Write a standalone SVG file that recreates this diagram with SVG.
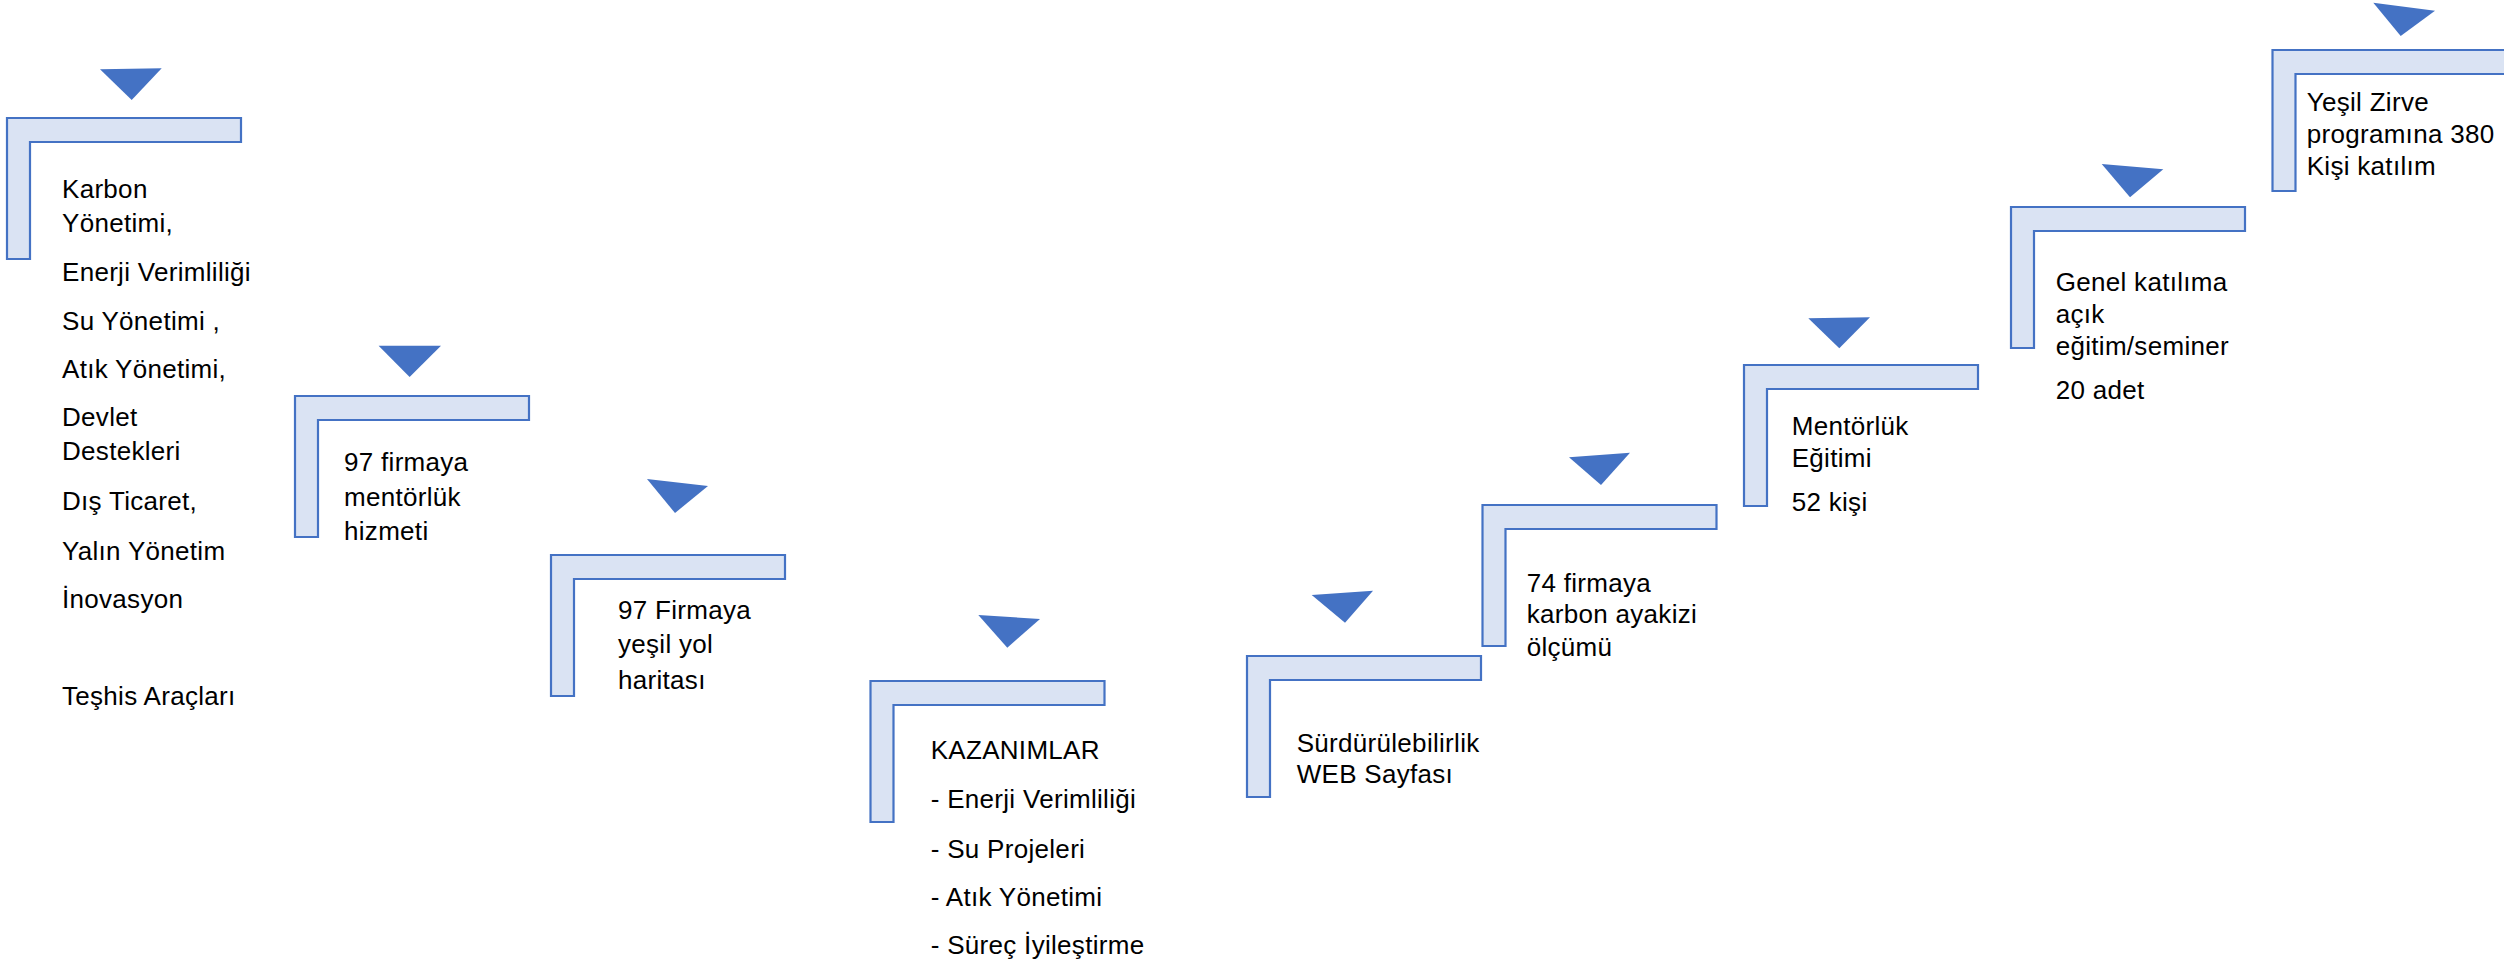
<svg xmlns="http://www.w3.org/2000/svg" width="2504" height="965" viewBox="0 0 2504 965">
<defs>
<style>
.br{fill:#DAE3F3;stroke:#4472C4;stroke-width:2.2}
.tri{fill:#4472C4;stroke:none}
.t{font-family:"Liberation Sans","Noto Sans",Arial,sans-serif;font-size:26px;letter-spacing:0.3px;fill:#000}
</style>
<path id="bracket" d="M0,0 H234 V24 H23 V141 H0 Z"/>
</defs>
<rect width="2504" height="965" fill="#fff"/>
<g id="connectors">
<polygon class="tri" points="100,69.3 161.7,68.3 131.7,100"/>
<polygon class="tri" points="378.6,345.7 441,345.7 409.6,377"/>
<polygon class="tri" points="647,479 708,486 675,513"/>
<polygon class="tri" points="978.3,615 1040,619 1007.3,647.7"/>
<polygon class="tri" points="1311.7,595 1373,590.7 1345,622.7"/>
<polygon class="tri" points="1569,457.3 1630,452.7 1601,485"/>
<polygon class="tri" points="1808.3,318.3 1870,317.3 1839.3,348.3"/>
<polygon class="tri" points="2101.7,164 2163.3,169.3 2130,197.3"/>
<polygon class="tri" points="2373.3,2.7 2435,10.7 2400.7,36"/>
</g>
<g id="node1">
<use href="#bracket" class="br" x="7" y="118"/>
<text class="t" x="62" y="197.5">Karbon</text>
<text class="t" x="62" y="231.5">Yönetimi,</text>
<text class="t" x="62" y="281">Enerji Verimliliği</text>
<text class="t" x="62" y="330">Su Yönetimi ,</text>
<text class="t" x="62" y="378">Atık Yönetimi,</text>
<text class="t" x="62" y="426">Devlet</text>
<text class="t" x="62" y="460">Destekleri</text>
<text class="t" x="62" y="510">Dış Ticaret,</text>
<text class="t" x="62" y="560">Yalın Yönetim</text>
<text class="t" x="62" y="608">İnovasyon</text>
<text class="t" x="62" y="705">Teşhis Araçları</text>
</g>
<g id="node2">
<use href="#bracket" class="br" x="295" y="396"/>
<text class="t" x="344" y="470.7">97 firmaya</text>
<text class="t" x="344" y="505.7">mentörlük</text>
<text class="t" x="344" y="540">hizmeti</text>
</g>
<g id="node3">
<use href="#bracket" class="br" x="551" y="555"/>
<text class="t" x="618" y="619">97 Firmaya</text>
<text class="t" x="618" y="653">yeşil yol</text>
<text class="t" x="618" y="689">haritası</text>
</g>
<g id="node4">
<use href="#bracket" class="br" x="870.5" y="681"/>
<text class="t" x="930.7" y="759">KAZANIMLAR</text>
<text class="t" x="930.7" y="808">- Enerji Verimliliği</text>
<text class="t" x="930.7" y="857.5">- Su Projeleri</text>
<text class="t" x="930.7" y="906">- Atık Yönetimi</text>
<text class="t" x="930.7" y="954">- Süreç İyileştirme</text>
</g>
<g id="node5">
<use href="#bracket" class="br" x="1247" y="656"/>
<text class="t" x="1296.7" y="751.7">Sürdürülebilirlik</text>
<text class="t" x="1296.7" y="782.7">WEB Sayfası</text>
</g>
<g id="node6">
<use href="#bracket" class="br" x="1482.5" y="505"/>
<text class="t" x="1526.7" y="591.7">74 firmaya</text>
<text class="t" x="1526.7" y="623.3">karbon ayakizi</text>
<text class="t" x="1526.7" y="656">ölçümü</text>
</g>
<g id="node7">
<use href="#bracket" class="br" x="1744" y="365"/>
<text class="t" x="1791.7" y="435">Mentörlük</text>
<text class="t" x="1791.7" y="467.3">Eğitimi</text>
<text class="t" x="1791.7" y="510.7">52 kişi</text>
</g>
<g id="node8">
<use href="#bracket" class="br" x="2011" y="207"/>
<text class="t" x="2055.7" y="291">Genel katılıma</text>
<text class="t" x="2055.7" y="322.7">açık</text>
<text class="t" x="2055.7" y="355">eğitim/seminer</text>
<text class="t" x="2055.7" y="399.3">20 adet</text>
</g>
<g id="node9">
<use href="#bracket" class="br" x="2272.5" y="50"/>
<text class="t" x="2306.7" y="110.5">Yeşil Zirve</text>
<text class="t" x="2306.7" y="142.5">programına 380</text>
<text class="t" x="2306.7" y="175">Kişi katılım</text>
</g>
</svg>
